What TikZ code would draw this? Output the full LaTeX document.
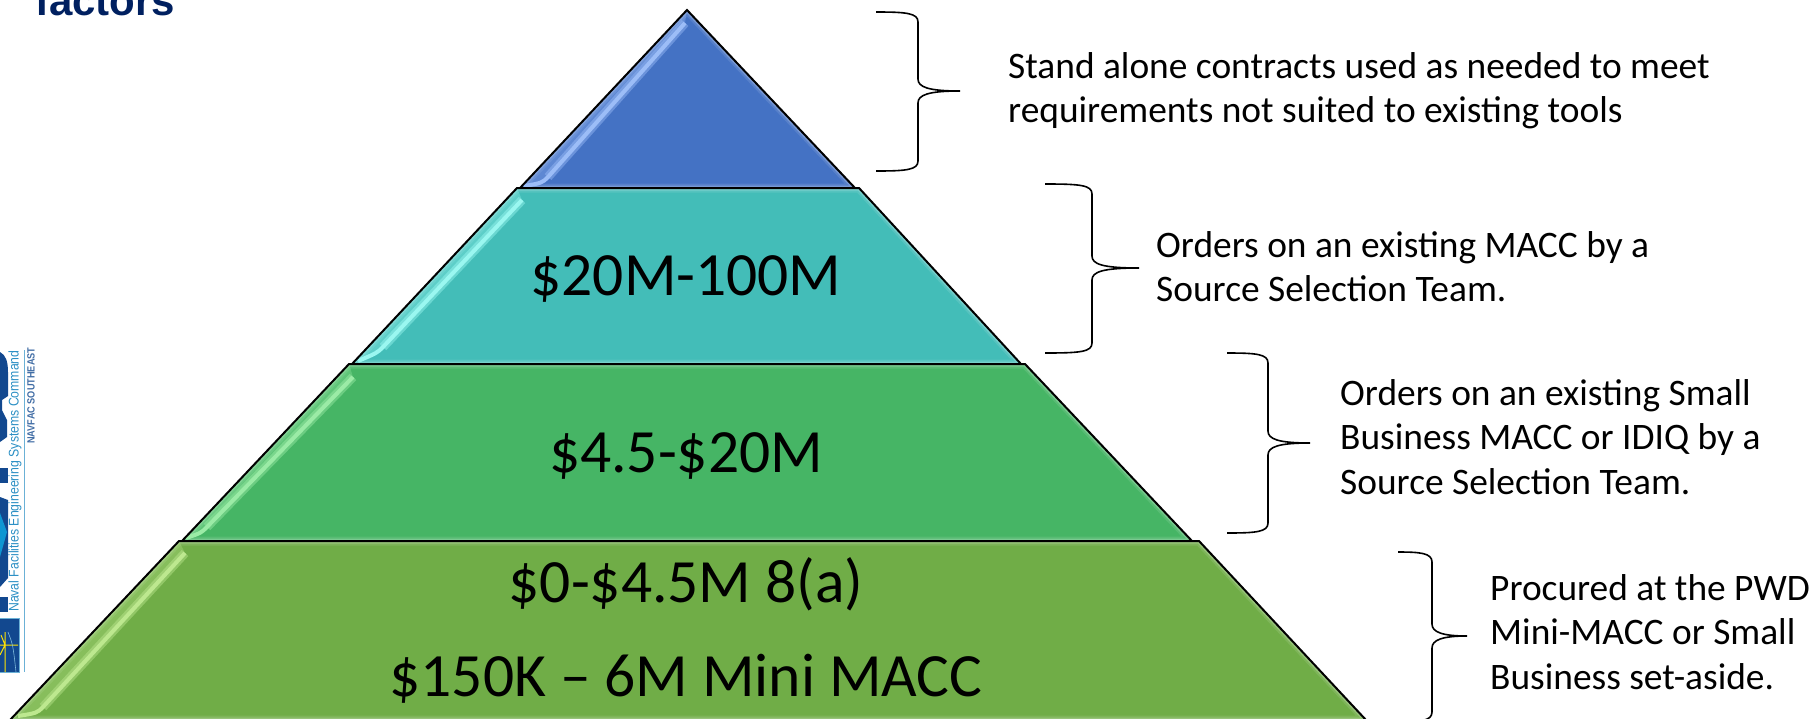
\documentclass[tikz,border=0pt]{standalone}
\usepackage{fontspec}
\setmainfont{Carlito}
\newfontfamily\arialfont{Liberation Sans}
\newfontfamily\narrowfont[FakeStretch=0.875]{Liberation Sans}
\definecolor{tierA}{HTML}{4472C4}
\definecolor{tierB}{HTML}{43BDB8}
\definecolor{tierC}{HTML}{46B565}
\definecolor{tierD}{HTML}{70AD47}
\definecolor{glowA}{HTML}{9CBDF7}
\definecolor{glowB}{HTML}{9AF7F0}
\definecolor{glowC}{HTML}{9BEBA6}
\definecolor{glowD}{HTML}{BDE88F}
\definecolor{titleblue}{HTML}{002060}
\definecolor{logodark}{HTML}{12488F}
\definecolor{logolight}{HTML}{0E96D2}
\definecolor{logotext}{HTML}{2B8FC4}
\begin{document}
\begin{tikzpicture}[x=1pt,y=-1pt,
				tiertext/.style={inner sep=0,font=\fontsize{61.5}{61.5}\selectfont,anchor=base},
				sidetext/.style={inner sep=0,align=left,anchor=north west,font=\fontsize{37.4}{44.5}\selectfont},
				curly/.style={draw=black,line width=1.6pt},
				tieredge/.style={draw=black,line width=2pt,line join=miter}]
\useasboundingbox (0,0) rectangle (1820,718);
\clip (0,0) rectangle (1820,718);
% tiers, top one first
\foreach \col/\glow/\ax/\bx/\ya/\cx/\dx/\yb/\sx/\sy/\tx/\ty/\ux/\uy in {
	tierA/glowA/687/687/10/520/855/188/685/23/548/177/524/186,
	tierB/glowB/517/859/188/352/1021/364/522/200/383/347/358/361,
	tierC/glowC/349/1025/364/182/1192/541/353/377/207/527/186/538,
	tierD/glowD/179/1199/541/10/1366/720/185/553/43/707/18/716} {
	\fill[\col] (\ax,\ya) -- (\bx,\ya) -- (\dx,\yb) -- (\cx,\yb) -- cycle;
	\begin{scope}
	\clip (\ax,\ya) -- (\bx,\ya) -- (\dx,\yb) -- (\cx,\yb) -- cycle;
	\draw[white,opacity=.1,line width=9pt] (\ax,\ya) -- (\bx,\ya) -- (\dx,\yb) -- (\cx,\yb) -- cycle;
	\draw[white,opacity=.2,line width=5pt] (\ax,\ya) -- (\bx,\ya) -- (\dx,\yb) -- (\cx,\yb) -- cycle;
	\fill[\glow,opacity=.3] (\ax,\ya) -- (\sx,\sy) -- (\tx,\ty) .. controls (\tx-6,\ty+6) .. (\ux,\uy) -- (\cx,\yb) -- cycle;
	\draw[\glow,opacity=.45,line width=9pt] (\sx,\sy) -- (\tx,\ty);
	\draw[\glow,line width=4pt] (\sx,\sy) -- (\tx,\ty) .. controls (\tx-6,\ty+6) .. (\ux,\uy);
	\end{scope}
	\draw[tieredge] (\ax,\ya) -- (\bx,\ya) -- (\dx,\yb) -- (\cx,\yb) -- cycle;
}
\node[tiertext] (midB) at (686,295) {\$20M-100M};
\node[tiertext] (midC) at (686,472) {\$4.5-\$20M};
\node[tiertext] (lowD) at (686,602) {\$0-\$4.5M 8(a)};
\node[tiertext] (miniD) at (686,696) {\$150K – 6M Mini MACC};
% braces
\foreach \xa/\xb/\xc/\ya/\yb/\yc in {
	876/918/960/12/91/171,
	1045/1092/1139/184/268/353,
	1227/1268/1310/353/443/533,
	1398/1432/1467/552/636/722} {
	\draw[curly] (\xa,\ya) .. controls (\xb-12,\ya) and (\xb,\ya+1) .. (\xb,\ya+10)
		-- (\xb,\yb-12) .. controls (\xb,\yb-4) and (\xb+10,\yb) .. (\xc,\yb)
		.. controls (\xb+10,\yb) and (\xb,\yb+4) .. (\xb,\yb+12)
		-- (\xb,\yc-10) .. controls (\xb,\yc-1) and (\xb-12,\yc) .. (\xa,\yc);
}
\node[sidetext] (noteA) at (1008,52) {Stand alone contracts used as needed to meet\\requirements not suited to existing tools};
\node[sidetext] (noteB) at (1156,231) {Orders on an existing MACC by a\\Source Selection Team.};
\node[sidetext] (noteC) at (1340,379) {Orders on an existing Small\\Business MACC or IDIQ by a\\Source Selection Team.};
\node[sidetext] (noteD) at (1490,574) {Procured at the PWD\\Mini-MACC or Small\\Business set-aside.};
% slide leftovers
\node[inner sep=0,anchor=base west,text=titleblue,font=\arialfont\bfseries\fontsize{42}{42}\selectfont] (title) at (35,15) {factors};
\fill[logodark] (0,352) .. controls (6,355) and (8,362) .. (8,372) -- (8,396) -- (2,400) -- (2,410) -- (7,420) -- (7,437) -- (0,442) -- cycle;
\fill[logodark] (0,468) rectangle (8,483);
\fill[logodark] (0,497) -- (8,500) -- (8,578) -- (0,587) -- cycle;
\fill[logolight] (0,513) -- (7,532) -- (0,557) -- cycle;
\fill[logodark] (0,597) rectangle (8,612);
\draw[logotext!70,line width=.8pt,fill=logodark] (-1,618) rectangle (19,672);
\draw[yellow!85!orange,line width=1pt] (0,645) -- (18,645) (5,632) -- (5,672) (0,655) -- (5,645) -- (1,635);
\draw[logotext!60,line width=.6pt] (8,632) .. controls (13,645) .. (16,672);
\draw[logotext!70,line width=1pt] (24,350) -- (24,672);
\node[inner sep=0,anchor=west,rotate=90,text=logotext,font=\narrowfont\fontsize{14}{14}\selectfont] (navalname) at (15,612) {Naval Facilities Engineering Systems Command};
\node[inner sep=0,anchor=west,rotate=90,text=logodark!80,font=\narrowfont\bfseries\fontsize{10.5}{10.5}\selectfont] (navalse) at (31,444) {NAVFAC SOUTHEAST};
\end{tikzpicture}
\end{document}
